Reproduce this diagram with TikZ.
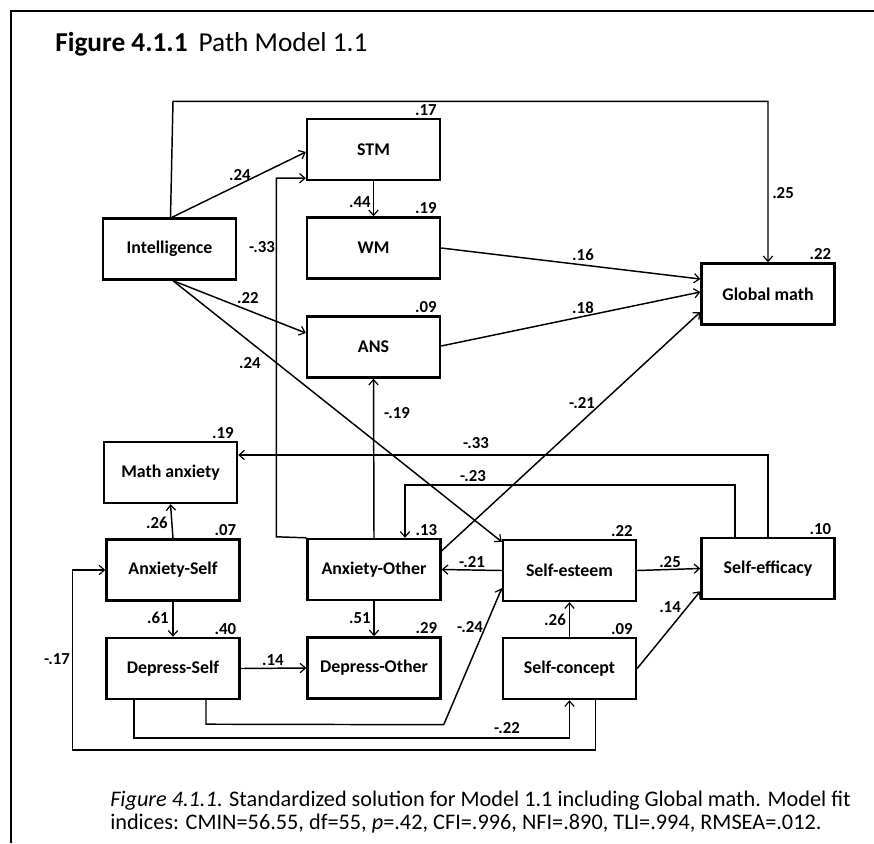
\documentclass[tikz,border=0pt]{standalone}
\usepackage{fontspec}
\setmainfont{Carlito}
\usetikzlibrary{arrows.meta,calc}
\begin{document}
\begin{tikzpicture}[x=0.75pt,y=-0.75pt,
  box/.style={draw,line width=1.8pt,minimum width=99.75pt,minimum height=45.75pt,
    inner sep=0pt,font=\bfseries\fontsize{13.4}{15}\selectfont},
  conn/.style={line width=1.1pt},
  arr/.style={conn,-{Straight Barb[length=4pt,width=7pt,line width=0.9pt]}},
  coef/.style={inner sep=0pt,font=\bfseries\fontsize{12.6}{14}\selectfont},
  rsq/.style={anchor=south east,inner sep=1pt,font=\bfseries\fontsize{12.6}{14}\selectfont},
  txt/.style={inner sep=0pt,anchor=base west,font=\fontsize{16.7}{19}\selectfont}]
\useasboundingbox (0,0) rectangle (874,843);

% page frame
\draw[line width=1.8pt] (11,843) -- (11,11) -- (874,11);

% heading and caption
\node[txt,font=\fontsize{20.5}{24}\selectfont] (title) at (55,51) {\textbf{Figure 4.1.1}\hspace{0.4em}Path Model 1.1};
\node[txt] (cap1) at (110,806) {\textit{Figure 4.1.1}. Standardized solution for Model 1.1 including Global math. Model fit};
\node[txt] (cap2) at (110,829) {indices: CMIN=56.55, df=55, \textit{p}=.42, CFI=.996, NFI=.890, TLI=.994, RMSEA=.012.};

% variables
\node[box] (intel) at (169.5,249) {Intelligence};
\node[box] (stm)   at (373.5,149.5) {STM};
\node[box] (wm)    at (373.5,248) {WM};
\node[box] (ans)   at (373.5,347) {ANS};
\node[box] (gmath) at (768,294) {Global math};
\node[box] (manx)  at (170.5,472.5) {Math anxiety};
\node[box] (axs)   at (173,570) {Anxiety-Self};
\node[box] (axo)   at (374,569.5) {Anxiety-Other};
\node[box] (ses)   at (569.5,570.5) {Self-esteem};
\node[box] (sef)   at (768,568.5) {Self-efficacy};
\node[box] (dps)   at (173,668.5) {Depress-Self};
\node[box] (dpo)   at (374,668) {Depress-Other};
\node[box] (sco)   at (569.5,668.5) {Self-concept};

% explained variance
\foreach \b/\v in {stm/.17,wm/.19,ans/.09,gmath/.22,manx/.19,axs/.07,axo/.13,
                   ses/.22,sef/.10,dps/.40,dpo/.29,sco/.09}
  \node[rsq] (r2\b) at ($(\b.north east)+(-3,-1)$) {\v};

% paths
\draw[arr] ($(intel.north)+(2.5,0)$) -- ($(stm.west)+(0,2.5)$);
\draw[arr] ($(intel.north)+(1,0)$) -- ($(intel.north)+(3.5,-116)$) -| (gmath.north);
\draw[arr] ($(intel.south)+(3.5,0)$) -- ($(ans.west)+(0,-14)$);
\draw[arr] ($(intel.south)+(3.5,0)$) -- ($(ses.north west)+(0,3)$);
\draw[arr] (stm.south) -- (wm.north);
\draw[arr] (wm.east) -- ($(gmath.west)+(0,-15)$);
\draw[arr] ($(ans.east)+(0,-1)$) -- ($(gmath.west)+(0,-2)$);
\draw[arr] ($(axo.north east)+(0,13)$) -- ($(gmath.west)+(0,18)$);
\draw[arr] (axo.north west) -- ++(-30,-1) |- ($(stm.south west)+(0,-3)$);
\draw[arr] (axo.north) -- (ans.south);
\draw[arr] (sef.north) |- ($(manx.east)+(0,-17.5)$);
\draw[arr] ($(sef.north)+(-33,0)$) |- ($(axo.north)+(31,-53)$) -- ($(axo.north)+(31,0)$);
\draw[arr] (axs.north) -- (manx.south);
\draw[arr] (axs.south) -- (dps.north);
\draw[arr] (axo.south) -- (dpo.north);
\draw[arr] (ses.west) -- (axo.east);
\draw[arr] (ses.east) -- (sef.west);
\draw[arr] (sco.north) -- (ses.south);
\draw[arr] (sco.east) -- ($(sef.south west)+(0,-9)$);
\draw[arr] (dps.east) -- (dpo.west);
\draw[arr] ($(dps.south)+(33,0)$) -- ++(0,24) -- ($(dpo.south east)+(2,25)$) -- ($(ses.south west)+(0,-14)$);
\draw[arr] ($(dps.south)+(-39,0)$) -- ++(0,38) -| (sco.south);
\draw[arr] ($(sco.south)+(26,0)$) -- ++(0,50) -| ($(axs.west)+(-33,0)$) -- (axs.west);

% path coefficients
\node[coef] (c1)  at (240,175) {.24};
\node[coef] (c2)  at (783,193) {.25};
\node[coef] (c3)  at (360,202) {.44};
\node[coef] (c4)  at (262,247) {-.33};
\node[coef] (c5)  at (583,255) {.16};
\node[coef] (c6)  at (248,298) {.22};
\node[coef] (c7)  at (583,308) {.18};
\node[coef] (c8)  at (250,363) {.24};
\node[coef] (c9)  at (582,403) {-.21};
\node[coef] (c10) at (397,413) {-.19};
\node[coef] (c11) at (476,443) {-.33};
\node[coef] (c12) at (473,476) {-.23};
\node[coef] (c13) at (157,523) {.26};
\node[coef] (c14) at (472,562) {-.21};
\node[coef] (c15) at (670,562) {.25};
\node[coef] (c16) at (670,607) {.14};
\node[coef] (c17) at (158,618) {.61};
\node[coef] (c18) at (360,618) {.51};
\node[coef] (c19) at (555,620) {.26};
\node[coef] (c20) at (470,627) {-.24};
\node[coef] (c21) at (57,659) {-.17};
\node[coef] (c22) at (273,660) {.14};
\node[coef] (c23) at (507,728) {-.22};
\end{tikzpicture}
\end{document}
